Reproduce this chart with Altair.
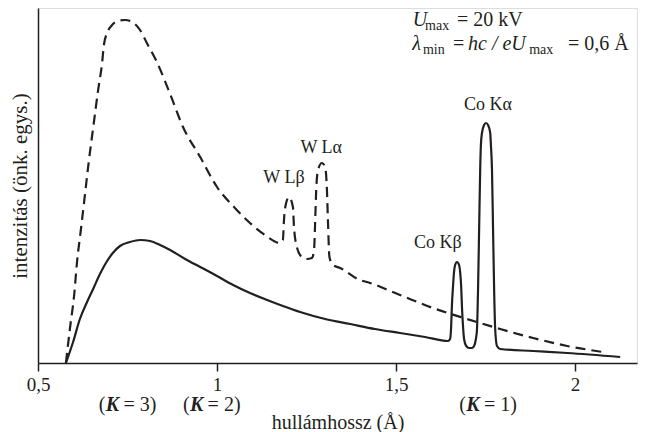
import altair as alt
import pandas as pd

# ---- data (wavelength in Å, intensity in arbitrary units) ----
solid_x = [0.578, 0.598, 0.617, 0.637, 0.654, 0.673, 0.693, 0.709, 0.729, 0.757,
           0.785, 0.813, 0.841, 0.869, 0.911, 0.953, 1.000, 1.045, 1.092, 1.140,
           1.184, 1.232, 1.302, 1.372, 1.441, 1.511, 1.581, 1.645, 1.651, 1.654,
           1.656, 1.659, 1.662, 1.665, 1.670, 1.676, 1.679, 1.682, 1.684, 1.687,
           1.690, 1.696, 1.704, 1.712, 1.718, 1.723, 1.726, 1.729, 1.732, 1.735,
           1.737, 1.740, 1.746, 1.751, 1.757, 1.763, 1.765, 1.768, 1.771, 1.774,
           1.777, 1.782, 1.791, 1.883, 1.978, 2.126]
solid_y = [0, 21, 44, 61, 74, 89, 102, 110, 117, 121,
           123, 122, 118, 113, 104, 96, 87, 78, 70, 63,
           57, 51, 44, 39, 34, 30, 26, 22, 24, 37,
           57, 76, 91, 98, 101, 98, 91, 76, 57, 37,
           24, 17, 15, 15, 17, 24, 33, 73, 133, 193,
           218, 230, 238, 240, 238, 230, 218, 193, 133, 73,
           33, 17, 14, 12, 10, 6]

dashed_x = [0.578, 0.589, 0.601, 0.609, 0.620, 0.631, 0.642, 0.654, 0.668, 0.679,
            0.684, 0.693, 0.707, 0.723, 0.743, 0.763, 0.785, 0.804, 0.832, 0.869,
            0.905, 0.953, 1.000, 1.050, 1.092, 1.134, 1.176, 1.184, 1.187, 1.193,
            1.201, 1.212, 1.215, 1.223, 1.237, 1.251, 1.265, 1.271, 1.274, 1.277,
            1.282, 1.293, 1.302, 1.307, 1.310, 1.314, 1.324, 1.344, 1.399, 1.419,
            1.511, 1.603, 1.698, 1.791, 1.883, 1.978, 2.078]
dashed_y = [0, 34, 68, 101, 134, 168, 202, 235, 273, 300,
            318, 330, 338, 342, 343, 341, 333, 320, 301, 269,
            236, 206, 176, 155, 140, 128, 120, 123, 143, 160,
            166, 156, 136, 116, 106, 104, 105, 113, 140, 173,
            193, 200, 196, 173, 140, 106, 98, 95, 83, 81,
            68, 55, 44, 34, 25, 17, 11]

peak_labels = ["Co Kα", "Co Kβ", "W Lα", "W Lβ"]
peak_label_x = [1.757, 1.617, 1.291, 1.187]
peak_label_y = [258, 120, 215, 185]

k_numbers = ["3", "2", "1"]
k_x = [0.708, 0.943, 1.715]

x_ticks = [0.5, 1, 1.5, 2]

# ---- style ----
INK = "#231f20"
FONT = "Liberation Serif"

x_scale = alt.Scale(domain=[0.5, 2.173], nice=False, zero=False)
y_scale = alt.Scale(domain=[0, 355], nice=False, zero=False)

x_axis = alt.Axis(values=x_ticks, labelExpr="replace(toString(datum.value), '.', ',')",
                  title="hullámhossz (Å)", grid=False,
                  domainColor=INK, domainWidth=1.5, tickColor=INK, tickWidth=1.5,
                  tickSize=8, labelFont=FONT, labelFontSize=19, labelColor=INK,
                  labelPadding=4, labelFlush=False,
                  titleFont=FONT, titleFontSize=20, titleFontWeight="normal",
                  titleColor=INK, titleBaseline="alphabetic", titleY=65)
y_axis = alt.Axis(ticks=False, labels=False, grid=False,
                  title="intenzitás (önk. egys.)", domainColor=INK, domainWidth=1.5,
                  titleFont=FONT, titleFontSize=21, titleFontWeight="normal",
                  titleColor=INK, titleAngle=270, titleBaseline="middle",
                  titleAlign="center", titleX=-18, titleY=177.5)

ex = alt.X("x:Q", scale=x_scale, axis=x_axis)
ey = alt.Y("y:Q", scale=y_scale, axis=y_axis)

solid_df = pd.DataFrame({"x": solid_x, "y": solid_y, "i": list(range(len(solid_x)))})
dashed_df = pd.DataFrame({"x": dashed_x, "y": dashed_y, "i": list(range(len(dashed_x)))})

dashed = alt.Chart(dashed_df).mark_line(
    interpolate="monotone", color=INK, strokeWidth=2.2, strokeDash=[10, 6]
).encode(x=ex, y=ey, order="i:Q")

solid = alt.Chart(solid_df).mark_line(
    interpolate="monotone", color=INK, strokeWidth=2.2
).encode(x=ex, y=ey, order="i:Q")

peaks_df = pd.DataFrame({"x": peak_label_x, "y": peak_label_y, "t": peak_labels})
peak_text = alt.Chart(peaks_df).mark_text(
    font=FONT, fontSize=18, color=INK, align="center", baseline="middle"
).encode(x=ex, y=ey, text="t:N")

# (K = n) labels below the axis
k_df = pd.DataFrame({"x": k_x, "y": [-48] * 3, "n": k_numbers})
k_open = alt.Chart(k_df).mark_text(
    font=FONT, fontSize=20, color=INK, align="right", baseline="alphabetic", dx=-7
).encode(x=ex, y=ey, text=alt.value("("))
k_k = alt.Chart(k_df).mark_text(
    font=FONT, fontSize=20, color=INK, align="center", baseline="alphabetic",
    fontStyle="italic", fontWeight="bold"
).encode(x=ex, y=ey, text=alt.value("K"))
k_rest = alt.Chart(k_df).transform_calculate(t="'= ' + datum.n + ')'").mark_text(
    font=FONT, fontSize=20, color=INK, align="left", baseline="alphabetic", dx=11
).encode(x=ex, y=ey, text="t:N")

# top-right annotation
ann_it = pd.DataFrame({"x": [1.547, 1.545, 1.701], "y": [337, 313, 313],
                       "t": ["U", "λ", "hc\u00a0/\u00a0eU"]})
ann_sub = pd.DataFrame({"x": [1.581, 1.575, 1.872], "y": [333, 309, 309],
                        "t": ["max", "min", "max"]})
ann_reg = pd.DataFrame({"x": [1.670, 1.659, 1.980], "y": [337, 313, 313],
                        "t": ["= 20 kV", "=", "= 0,6 Å"]})
a1 = alt.Chart(ann_it).mark_text(font=FONT, fontSize=20, color=INK, align="left",
                                 baseline="alphabetic", fontStyle="italic"
                                 ).encode(x=ex, y=ey, text="t:N")
a2 = alt.Chart(ann_sub).mark_text(font=FONT, fontSize=14, color=INK, align="left",
                                  baseline="alphabetic"
                                  ).encode(x=ex, y=ey, text="t:N")
a3 = alt.Chart(ann_reg).mark_text(font=FONT, fontSize=20, color=INK, align="left",
                                  baseline="alphabetic"
                                  ).encode(x=ex, y=ey, text="t:N")

chart = alt.layer(dashed, solid, peak_text, k_open, k_k, k_rest, a1, a2, a3).properties(
    width=599, height=355,
    padding={"left": 30, "top": 0, "right": 5, "bottom": 69},
    autosize="none",
).configure_view(stroke=None).configure(background="white")

chart.save("out.html", embed_options={"renderer": "svg", "actions": False})
